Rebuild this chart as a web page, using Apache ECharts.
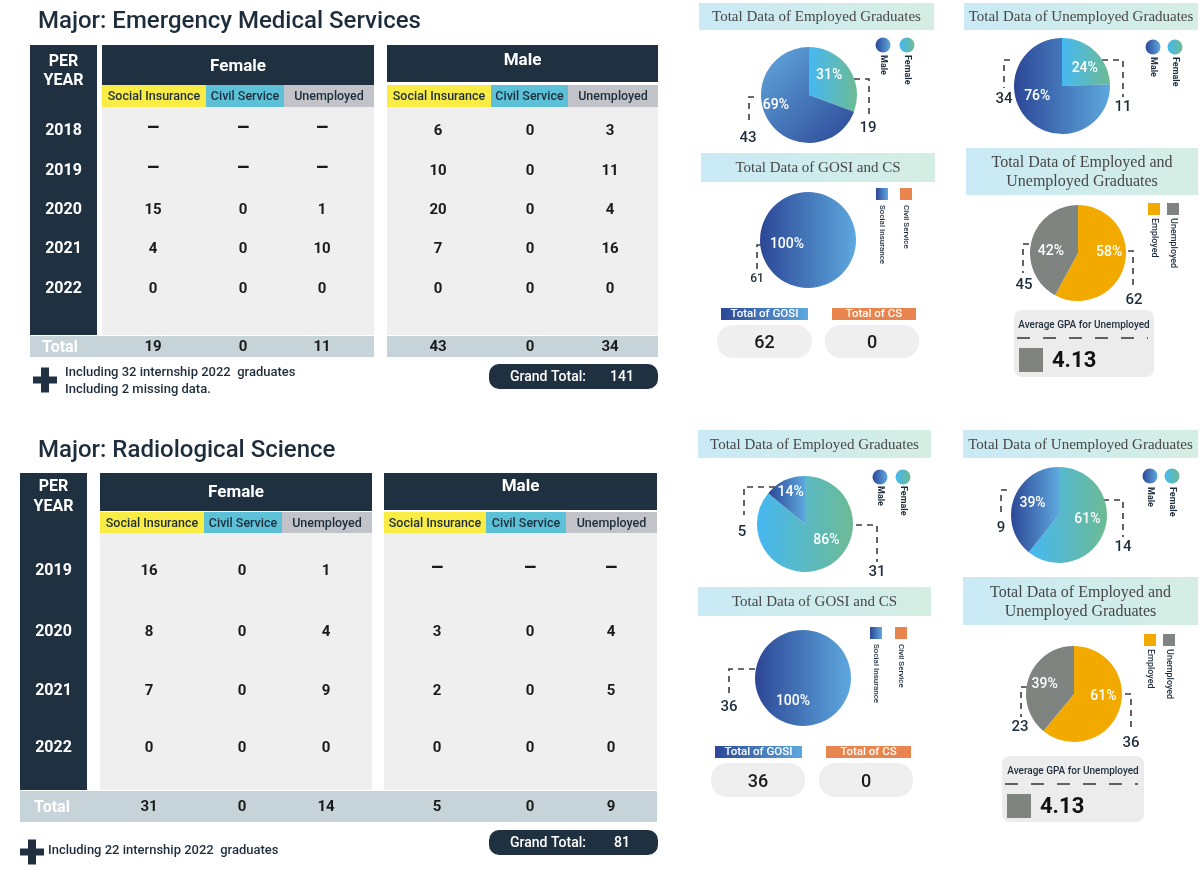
<!DOCTYPE html>
<html><head><meta charset="utf-8">
<script src="https://cdn.jsdelivr.net/npm/echarts@6/dist/echarts.min.js"></script>
<style>html,body{margin:0;padding:0;background:#fff}#c{width:1200px;height:872px}</style>
</head><body><div id="c"></div>
<script>
// ================= DATA =================
const subHeaders = ['Social Insurance', 'Civil Service', 'Unemployed'];
const genderNames = ['Female', 'Male'];
const fundNames = ['Social Insurance', 'Civil Service'];
const statusNames = ['Employed', 'Unemployed'];

const emsTitle = 'Major: Emergency Medical Services';
const emsYears = ['2018', '2019', '2020', '2021', '2022'];
const emsFemale = [[null, null, null], [null, null, null], [15, 0, 1], [4, 0, 10], [0, 0, 0]];
const emsMale = [[6, 0, 3], [10, 0, 11], [20, 0, 4], [7, 0, 16], [0, 0, 0]];
const emsFemaleTotal = [19, 0, 11];
const emsMaleTotal = [43, 0, 34];
const emsGrandTotal = 141;
const emsNotes = ['Including 32 internship 2022  graduates', 'Including 2 missing data.'];
const emsEmployedGender = [19, 43];
const emsUnemployedGender = [11, 34];
const emsGosiCs = [61, 0];
const emsGosiCsTotals = [62, 0];
const emsEmpUnemp = [62, 45];
const emsGpa = '4.13';

const rsTitle = 'Major: Radiological Science';
const rsYears = ['2019', '2020', '2021', '2022'];
const rsFemale = [[16, 0, 1], [8, 0, 4], [7, 0, 9], [0, 0, 0]];
const rsMale = [[null, null, null], [3, 0, 4], [2, 0, 5], [0, 0, 0]];
const rsFemaleTotal = [31, 0, 14];
const rsMaleTotal = [5, 0, 9];
const rsGrandTotal = 81;
const rsNotes = ['Including 22 internship 2022  graduates'];
const rsEmployedGender = [31, 5];
const rsUnemployedGender = [14, 9];
const rsGosiCs = [36, 0];
const rsGosiCsTotals = [36, 0];
const rsEmpUnemp = [36, 23];
const rsGpa = '4.13';

// ================= STYLE / LAYOUT =================
const F = 'Roboto, "Liberation Sans", sans-serif';
const SERIF = '"Liberation Serif", "DejaVu Serif", serif';
const NAVY = '#1f3040', TXT = '#1e2d3b';
const SUB_COLORS = ['#f8ec45', '#5cc1d7', '#c1c3c8'];
const EMP = '#f3aa00', UNEMP = '#7f8480', CSO = '#e9844f';
const maleLR = {type: 'linear', x: 0, y: 0, x2: 1, y2: 0, colorStops: [{offset: 0, color: '#2c4796'}, {offset: 1, color: '#5ea8de'}]};
const maleDiag = {type: 'linear', x: 0, y: 0, x2: 1, y2: 1, colorStops: [{offset: 0, color: '#62a9de'}, {offset: 1, color: '#2c4796'}]};
const femaleLR = {type: 'linear', x: 0, y: 0, x2: 1, y2: 0, colorStops: [{offset: 0, color: '#46b8f2'}, {offset: 1, color: '#6dbb94'}]};
const titleGrad = {type: 'linear', x: 0, y: 0, x2: 1, y2: 0, colorStops: [{offset: 0, color: '#c9eaf6'}, {offset: 1, color: '#d5eee3'}]};

const els = [];
function R(x, y, w, h, fill, r, extra) {
  els.push(Object.assign({type: 'rect', shape: {x: x, y: y, width: w, height: h, r: r || 0}, style: {fill: fill}}, extra || {}));
}
function T(x, y, str, font, fill, align, rot) {
  const a = align || 'center';
  els.push({type: 'text', x: x, y: y, rotation: rot || 0,
    style: {text: str, font: font, fill: fill, align: a, verticalAlign: 'middle', textAlign: a, textVerticalAlign: 'middle'}});
}

const tableLayouts = {
  ems: {titleX: 38, titleY: 22, perX: [30, 97], perY: [62, 81], top: 45,
    femaleX: [102, 206, 284, 374], maleX: [387, 491, 568, 658], femaleHead: 85, maleHead: 82,
    femaleTitleY: 67, maleTitleY: 61, subTop: 85, subBottom: 107, bodyBottom: 335,
    rowY: [129, 169, 208, 247, 287], femaleValX: [153, 243, 322], maleValX: [438, 530, 610],
    totalY: [336, 357], continuous: false, totalLabelX: 60,
    plus: [45, 380], notesX: 65, notesY: [373, 390], grand: [489, 364, 169, 25]},
  rs: {titleX: 38, titleY: 451, perX: [20, 87], perY: [487, 507], top: 473,
    femaleX: [100, 204, 282, 372], maleX: [384, 486, 566, 657], femaleHead: 511, maleHead: 510,
    femaleTitleY: 493, maleTitleY: 487, subTop: 512, subBottom: 533, bodyBottom: 790,
    rowY: [569, 630, 689, 746], femaleValX: [149, 242, 326], maleValX: [437, 530, 611],
    totalY: [791, 822], continuous: true, totalLabelX: 52,
    plus: [32, 852], notesX: 48, notesY: [851], grand: [489, 830, 169, 25]}
};

function table(L, title, years, female, male, fTot, mTot, grand, notes) {
  T(L.titleX, L.titleY, title, '500 24px ' + F, TXT, 'left');
  const perC = (L.perX[0] + L.perX[1]) / 2;
  R(L.perX[0], L.top, L.perX[1] - L.perX[0], L.bodyBottom - L.top, NAVY);
  T(perC, L.perY[0], 'PER', 'bold 16px ' + F, '#fff');
  T(perC, L.perY[1], 'YEAR', 'bold 16px ' + F, '#fff');
  const totC = (L.totalY[0] + L.totalY[1]) / 2 + 1, th = L.totalY[1] - L.totalY[0];
  if (L.continuous) {
    R(L.perX[0], L.totalY[0], L.maleX[3] - L.perX[0], th, '#c6d4d9');
  } else {
    R(L.perX[0], L.totalY[0], L.femaleX[3] - L.perX[0], th, '#c6d4d9');
    R(L.maleX[0], L.totalY[0], L.maleX[3] - L.maleX[0], th, '#c6d4d9');
  }
  T(L.totalLabelX, totC, 'Total', 'bold 16px ' + F, '#fff');
  years.forEach((y, i) => T(perC, L.rowY[i] + 1.5, y, 'bold 16px ' + F, '#fff'));
  [['Female', L.femaleX, L.femaleHead, L.femaleTitleY, female, fTot, L.femaleValX],
   ['Male', L.maleX, L.maleHead, L.maleTitleY, male, mTot, L.maleValX]].forEach(g => {
    const [name, X, hb, ty, vals, tot, vx] = g;
    const w = X[3] - X[0];
    R(X[0], L.top, w, hb - L.top, NAVY);
    T((X[0] + X[3]) / 2, ty, name, 'bold 17px ' + F, '#fff');
    for (let j = 0; j < 3; j++) {
      R(X[j], L.subTop, X[j + 1] - X[j], L.subBottom - L.subTop, SUB_COLORS[j]);
      T((X[j] + X[j + 1]) / 2, (L.subTop + L.subBottom) / 2 + 1, subHeaders[j], '500 12.5px ' + F, TXT);
    }
    R(X[0], L.subBottom, w, L.bodyBottom - L.subBottom, '#efefef');
    vals.forEach((row, i) => row.forEach((v, j) => {
      if (v == null) T(vx[j], L.rowY[i], '–', 'bold 21px ' + F, '#1a1a1a');
      else T(vx[j], L.rowY[i] + 2, String(v), 'bold 15px ' + F, '#1a1a1a');
    }));
    tot.forEach((v, j) => T(vx[j], totC, String(v), 'bold 15px ' + F, '#1a1a1a'));
  });
  // plus sign + notes
  const [px, py] = L.plus;
  R(px - 12, py - 3.5, 24, 7, NAVY);
  R(px - 4, py - 12.5, 8, 25, NAVY);
  notes.forEach((n, i) => T(L.notesX, L.notesY[i], n, '500 13px ' + F, TXT, 'left'));
  const g = L.grand;
  R(g[0], g[1], g[2], g[3], NAVY, 10);
  T(g[0] + 21, g[1] + g[3] / 2 + 1, 'Grand Total:', '500 14px ' + F, '#fff', 'left');
  T(g[0] + 133, g[1] + g[3] / 2 + 1, String(grand), '500 14px ' + F, '#fff');
}

table(tableLayouts.ems, emsTitle, emsYears, emsFemale, emsMale, emsFemaleTotal, emsMaleTotal, emsGrandTotal, emsNotes);
table(tableLayouts.rs, rsTitle, rsYears, rsFemale, rsMale, rsFemaleTotal, rsMaleTotal, rsGrandTotal, rsNotes);

// ---------- title boxes ----------
const titleBoxes = [
  {x: 699, y: 3, w: 235, h: 27, lines: ['Total Data of Employed Graduates']},
  {x: 964, y: 3, w: 234, h: 27, lines: ['Total Data of Unemployed Graduates']},
  {x: 701, y: 153, w: 234, h: 29, lines: ['Total Data of GOSI and CS']},
  {x: 966, y: 148, w: 232, h: 47, lines: ['Total Data of Employed and', 'Unemployed Graduates']},
  {x: 698, y: 430, w: 233, h: 28, lines: ['Total Data of Employed Graduates']},
  {x: 963, y: 430, w: 235, h: 28, lines: ['Total Data of Unemployed Graduates']},
  {x: 698, y: 587, w: 233, h: 29, lines: ['Total Data of GOSI and CS']},
  {x: 963, y: 577, w: 235, h: 48, lines: ['Total Data of Employed and', 'Unemployed Graduates']}
];
titleBoxes.forEach(b => {
  R(b.x, b.y, b.w, b.h, titleGrad);
  const cx = b.x + b.w / 2, cy = b.y + b.h / 2 + 1;
  if (b.lines.length === 1) T(cx, cy, b.lines[0], '15px ' + SERIF, '#474747');
  else { T(cx, cy - 9.5, b.lines[0], '16px ' + SERIF, '#474747'); T(cx, cy + 9.5, b.lines[1], '16px ' + SERIF, '#474747'); }
});

// ---------- legends ----------
const VT = -Math.PI / 2;
function circLeg(x, y, fill, label, ty) {
  els.push({type: 'circle', shape: {cx: x, cy: y, r: 7.5}, style: {fill: fill}});
  T(x, ty, label, 'bold 9px ' + F, TXT, 'left', VT);
}
function sqLeg(x, y, s, fill, label, tx, ty, font) {
  R(x, y, s, s, fill);
  T(tx, ty, label, font, TXT, 'left', VT);
}
circLeg(883, 45, maleLR, genderNames[1], 55); circLeg(907, 45, femaleLR, genderNames[0], 55);
circLeg(1153, 47, maleLR, genderNames[1], 57); circLeg(1175, 47, femaleLR, genderNames[0], 57);
circLeg(880, 477, maleLR, genderNames[1], 486); circLeg(903, 477, femaleLR, genderNames[0], 486);
circLeg(1150, 476, maleLR, genderNames[1], 487); circLeg(1172, 476, femaleLR, genderNames[0], 487);
sqLeg(876, 188, 12, maleLR, fundNames[0], 882, 205, '500 8px ' + F);
sqLeg(900, 188, 12, CSO, fundNames[1], 906, 205, '500 8px ' + F);
sqLeg(870, 627, 12, maleLR, fundNames[0], 876, 644, '500 8px ' + F);
sqLeg(895, 627, 12, CSO, fundNames[1], 901, 644, '500 8px ' + F);
sqLeg(1148, 203, 12, EMP, statusNames[0], 1154, 218, '500 9px ' + F);
sqLeg(1167, 203, 12, UNEMP, statusNames[1], 1173, 218, '500 9px ' + F);
sqLeg(1144, 634, 12, EMP, statusNames[0], 1150, 649, '500 9px ' + F);
sqLeg(1163, 634, 12, UNEMP, statusNames[1], 1169, 649, '500 9px ' + F);

// ---------- GOSI / CS totals ----------
function totals(b, vals) {
  R(b.bar1[0], b.bar1[1], b.bar1[2], b.bar1[3], maleLR);
  T(b.bar1[0] + b.bar1[2] / 2, b.bar1[1] + b.bar1[3] / 2 + 0.5, 'Total of GOSI', '500 11.5px ' + F, '#fff');
  R(b.bar2[0], b.bar2[1], b.bar2[2], b.bar2[3], CSO);
  T(b.bar2[0] + b.bar2[2] / 2, b.bar2[1] + b.bar2[3] / 2 + 0.5, 'Total of CS', '500 11.5px ' + F, '#fff');
  [b.pill1, b.pill2].forEach((p, i) => {
    R(p[0], p[1], p[2], p[3], '#efefef', 16);
    T(p[0] + p[2] / 2, p[1] + p[3] / 2 + 2, String(vals[i]), '500 18px ' + F, '#1a1a1a');
  });
}
totals({bar1: [721, 308, 87, 12], bar2: [832, 308, 84, 12], pill1: [717, 325, 95, 33], pill2: [825, 325, 94, 33]}, emsGosiCsTotals);
totals({bar1: [715, 746, 87, 12], bar2: [826, 746, 85, 12], pill1: [711, 763, 94, 34], pill2: [819, 763, 94, 34]}, rsGosiCsTotals);

// ---------- GPA boxes ----------
function gpa(b, val) {
  R(b.x, b.y, b.w, b.h, '#ececec', 8);
  T(b.x + b.w / 2, b.y + 15, 'Average GPA for Unemployed', '500 10px ' + F, TXT);
  els.push({type: 'line', shape: {x1: b.x + 3, y1: b.y + 28, x2: b.x + b.w - 6, y2: b.y + 28},
    style: {stroke: '#333', lineWidth: 1.5, lineDash: [13, 13]}});
  R(b.x + 5, b.y + 38, 24, 24, UNEMP);
  T(b.x + 38, b.y + 51, val, 'bold 22px ' + F, '#111', 'left');
}
gpa({x: 1014, y: 310, w: 140, h: 67}, emsGpa);
gpa({x: 1002, y: 756, w: 142, h: 66}, rsGpa);

// ---------- PIES ----------
const pies = [
  {center: [809, 95], names: genderNames, values: emsEmployedGender, colors: [femaleLR, maleDiag], pct: [[-2, -4], [-11, -5]],
   lab: [{line: [[45, -16], [60, -16], [60, 22]], at: [59, 33]}, {line: [[-55, 2], [-60, 2], [-60, 25]], at: [-61, 43]}]},
  {center: [1062, 86], names: genderNames, values: emsUnemployedGender, colors: [femaleLR, maleLR], pct: [[4, 2], [-6, -9]],
   lab: [{line: [[40, -26], [61, -26], [61, 11]], at: [61, 21]}, {line: [[-52, -26], [-58, -26], [-58, 2]], at: [-58, 13]}]},
  {center: [808, 240], names: fundNames, values: emsGosiCs, colors: [maleLR, CSO], pct: [[-21, -23], [0, 0]],
   lab: [{line: [[-47, 5], [-51, 5], [-51, 30]], at: [-51, 39], size: 12}, null]},
  {center: [1078, 253], names: statusNames, values: emsEmpUnemp, colors: [EMP, UNEMP], pct: [[5, -7], [-1, 5]],
   lab: [{line: [[50, -2], [55, -2], [55, 32]], at: [56, 47]}, {line: [[-49, -9], [-55, -9], [-55, 20]], at: [-54, 32]}]},
  {center: [805, 524], names: genderNames, values: rsEmployedGender, colors: [femaleLR, maleLR], pct: [[10, -8], [-3, -7]],
   lab: [{line: [[51, 1], [72, 1], [72, 38]], at: [72, 48]}, {line: [[-30, -37], [-61, -37], [-61, -9]], at: [-63, 8]}]},
  {center: [1059, 515], names: genderNames, values: rsUnemployedGender, colors: [femaleLR, maleLR], pct: [[3, -5], [-1, -2]],
   lab: [{line: [[44, -15], [64, -15], [64, 22]], at: [64, 32]}, {line: [[-52, -25], [-58, -25], [-58, 2]], at: [-58, 13]}]},
  {center: [803, 678], names: fundNames, values: rsGosiCs, colors: [maleLR, CSO], pct: [[-10, -4], [0, 0]],
   lab: [{line: [[-48, -9], [-74, -9], [-74, 16]], at: [-74, 29]}, null]},
  {center: [1074, 694], names: statusNames, values: rsEmpUnemp, colors: [EMP, UNEMP], pct: [[4, -7], [-4, 0]],
   lab: [{line: [[51, 0], [57, 0], [57, 36]], at: [57, 49]}, {line: [[-47, -7], [-53, -7], [-53, 23]], at: [-54, 33]}]}
];

const series = [];
pies.forEach(p => {
  const cx = p.center[0], cy = p.center[1];
  series.push({
    type: 'pie', center: [cx, cy], radius: 48, startAngle: 90, clockwise: true,
    avoidLabelOverlap: false, silent: true, animation: false,
    data: p.names.map((n, i) => ({name: n, value: p.values[i], itemStyle: {color: p.colors[i]},
      label: {show: p.values[i] > 0}})),
    label: {show: true, position: 'inside', color: '#fff', fontSize: 14, fontWeight: 500, fontFamily: F,
      formatter: q => Math.round(q.percent) + '%'},
    labelLine: {show: false},
    labelLayout: q => ({dx: p.pct[q.dataIndex][0], dy: p.pct[q.dataIndex][1]})
  });
  series.push({
    type: 'pie', center: [cx, cy], radius: 48, startAngle: 90, clockwise: true,
    avoidLabelOverlap: false, silent: true, animation: false,
    itemStyle: {color: 'rgba(0,0,0,0)'},
    data: p.names.map((n, i) => ({name: n, value: p.values[i],
      label: {show: !!p.lab[i]}, labelLine: {show: !!p.lab[i]}})),
    label: {show: true, position: 'outside', formatter: '{c}', color: TXT, fontSize: 15, fontWeight: 500, fontFamily: F},
    labelLine: {show: true, length: 6, length2: 6, smooth: false,
      lineStyle: {color: '#3b3b3b', width: 1.6, type: [6, 5]}},
    labelLayout: q => {
      const L = p.lab[q.dataIndex];
      if (!L) return {};
      return {x: cx + L.at[0], y: cy + L.at[1], align: 'center', verticalAlign: 'middle', fontSize: L.size || 15,
        labelLinePoints: L.line.map(pt => [cx + pt[0], cy + pt[1]])};
    }
  });
});

const chart = echarts.init(document.getElementById('c'), null, {renderer: 'canvas'});
chart.setOption({
  backgroundColor: '#fff',
  animation: false,
  graphic: {elements: els},
  series: series
});
</script>
</body></html>
